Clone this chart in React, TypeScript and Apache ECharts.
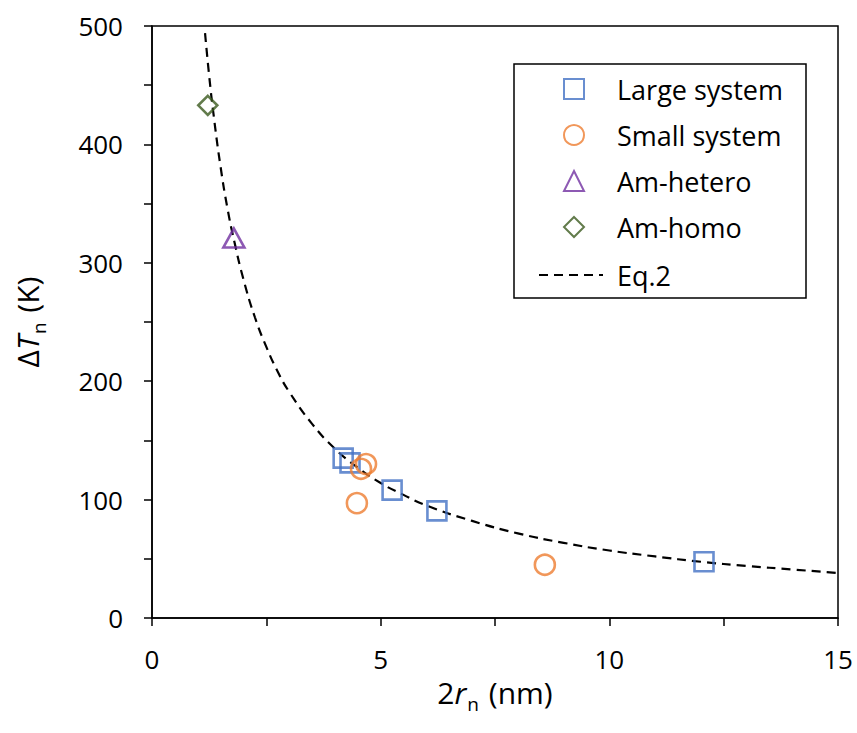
import React, { useEffect, useRef } from "react";
import * as echarts from "echarts";

const FONT = "'Open Sans', sans-serif";

// Large system (2r_n nm, ΔT_n K)
const largeX = [4.18, 4.33, 5.25, 6.23, 12.07];
const largeY = [135, 131, 108, 90.5, 47.5];
// Small system
const smallX = [4.68, 4.57, 4.48, 8.59];
const smallY = [130, 126, 97, 45];
// Am-hetero
const heteroX = [1.79];
const heteroY = [321];
// Am-homo
const homoX = [1.22];
const homoY = [433];
// Eq.2 curve
const eqX = [1.16, 1.25, 1.35, 1.5, 1.65, 1.8, 2.0, 2.25, 2.5, 2.75, 3.0, 3.5, 4.0, 4.5, 5.0, 5.5, 6.0, 7.0, 8.0, 9.0, 10.0, 11.0, 12.0, 13.0, 14.0, 15.0];
const eqY = [494, 458, 424, 381, 346, 318, 286, 254, 229, 208, 191, 164, 143, 127, 114, 104, 95, 82, 71.5, 63.5, 57, 52, 47.5, 44, 41, 38];

const xLabels = [0, 5, 10, 15];
const yLabels = [0, 100, 200, 300, 400, 500];
const markerNames = ["Large system", "Small system", "Am-hetero", "Am-homo"];
const lineName = "Eq.2";

const zip = (xs: number[], ys: number[]) => xs.map((x, i) => [x, ys[i]]);

export default function App() {
  const ref = useRef<HTMLDivElement>(null);
  useEffect(() => {
    if (!ref.current) return;
    const chart = echarts.init(ref.current, undefined, { renderer: "svg" });
    const axisLineStyle = { color: "#000", width: 1.5 };
    const nameRich = {
      a: { fontSize: 30, fontFamily: FONT, color: "#000", verticalAlign: "bottom", padding: [0, 0, 6, 0] },
      i: { fontSize: 30, fontFamily: FONT, fontStyle: "italic", color: "#000", verticalAlign: "bottom", padding: [0, 0, 6, 0] },
      s: { fontSize: 19, fontFamily: FONT, color: "#000", verticalAlign: "bottom", padding: [0, 2, 0, 1] },
    };
    const scatterBase = (color: string) => ({
      type: "scatter",
      itemStyle: { color: "rgba(0,0,0,0)", borderColor: color, borderWidth: 2.6 },
      emphasis: { disabled: true },
      z: 3,
    });
    const legendText = { fontSize: 27, lineHeight: 30, color: "#000", fontFamily: FONT };
    chart.setOption({
      animation: false,
      backgroundColor: "#fff",
      grid: { left: 152, right: 19, top: 26, bottom: 115, show: true, borderColor: "#000", borderWidth: 1.5 },
      xAxis: {
        type: "value",
        min: 0,
        max: 15,
        interval: 2.5,
        name: "{a|2}{i|r}{s|n}{a| (nm)}",
        nameLocation: "middle",
        nameGap: 59,
        nameTextStyle: { rich: nameRich },
        axisLine: { show: true, lineStyle: axisLineStyle },
        axisTick: { show: true, inside: false, length: 8, lineStyle: axisLineStyle },
        splitLine: { show: false },
        axisLabel: {
          formatter: (v: number) => (xLabels.includes(v) ? String(v) : ""),
          margin: 28,
          fontSize: 26,
          color: "#000",
          fontFamily: FONT,
        },
      },
      yAxis: {
        type: "value",
        min: 0,
        max: 500,
        interval: 50,
        name: "{a|Δ}{i|T}{s|n}{a| (K)}",
        nameLocation: "middle",
        nameGap: 104,
        nameRotate: 90,
        nameTextStyle: { rich: nameRich },
        axisLine: { show: true, lineStyle: axisLineStyle },
        axisTick: { show: true, inside: false, length: 8, lineStyle: axisLineStyle },
        splitLine: { show: false },
        axisLabel: {
          formatter: (v: number) => (yLabels.includes(v) ? String(v) : ""),
          margin: 29,
          fontSize: 26,
          color: "#000",
          fontFamily: FONT,
        },
      },
      legend: [
        {
          orient: "vertical",
          left: 563,
          top: 74,
          padding: 0,
          itemWidth: 20,
          itemHeight: 20,
          itemGap: 16,
          selectedMode: false,
          textStyle: { ...legendText, padding: [0, 0, 0, 28] },
          data: markerNames,
        },
        {
          orient: "vertical",
          left: 538,
          top: 260,
          padding: 0,
          itemWidth: 64,
          itemHeight: 20,
          selectedMode: false,
          textStyle: { ...legendText, padding: [0, 0, 0, 9] },
          data: [{ name: lineName, itemStyle: { opacity: 0 } }],
        },
      ],
      graphic: [
        {
          type: "rect",
          shape: { x: 514, y: 64, width: 292, height: 234 },
          style: { fill: "none", stroke: "#000", lineWidth: 1.5 },
          z: 10,
        },
      ],
      series: [
        {
          ...scatterBase("#4472C4"),
          name: markerNames[0],
          symbol: "rect",
          symbolSize: 19,
          data: zip(largeX, largeY),
        },
        {
          ...scatterBase("#ED7D31"),
          name: markerNames[1],
          symbol: "circle",
          symbolSize: 20,
          data: zip(smallX, smallY),
        },
        {
          ...scatterBase("#7030A0"),
          name: markerNames[2],
          symbol: "triangle",
          symbolSize: [21, 19],
          data: zip(heteroX, heteroY),
        },
        {
          ...scatterBase("#3B5A1E"),
          name: markerNames[3],
          symbol: "diamond",
          symbolSize: 19,
          data: zip(homoX, homoY),
        },
        {
          type: "line",
          name: lineName,
          data: zip(eqX, eqY),
          showSymbol: false,
          symbol: "none",
          smooth: true,
          lineStyle: { color: "#000", width: 2.2, type: [9, 6] },
          itemStyle: { color: "#000" },
          emphasis: { disabled: true },
          z: 2,
        },
      ],
    });
    return () => chart.dispose();
  }, []);
  return (
    <div
      ref={ref}
      style={{ position: "absolute", left: 0, top: 0, width: 857, height: 733 }}
    />
  );
}
